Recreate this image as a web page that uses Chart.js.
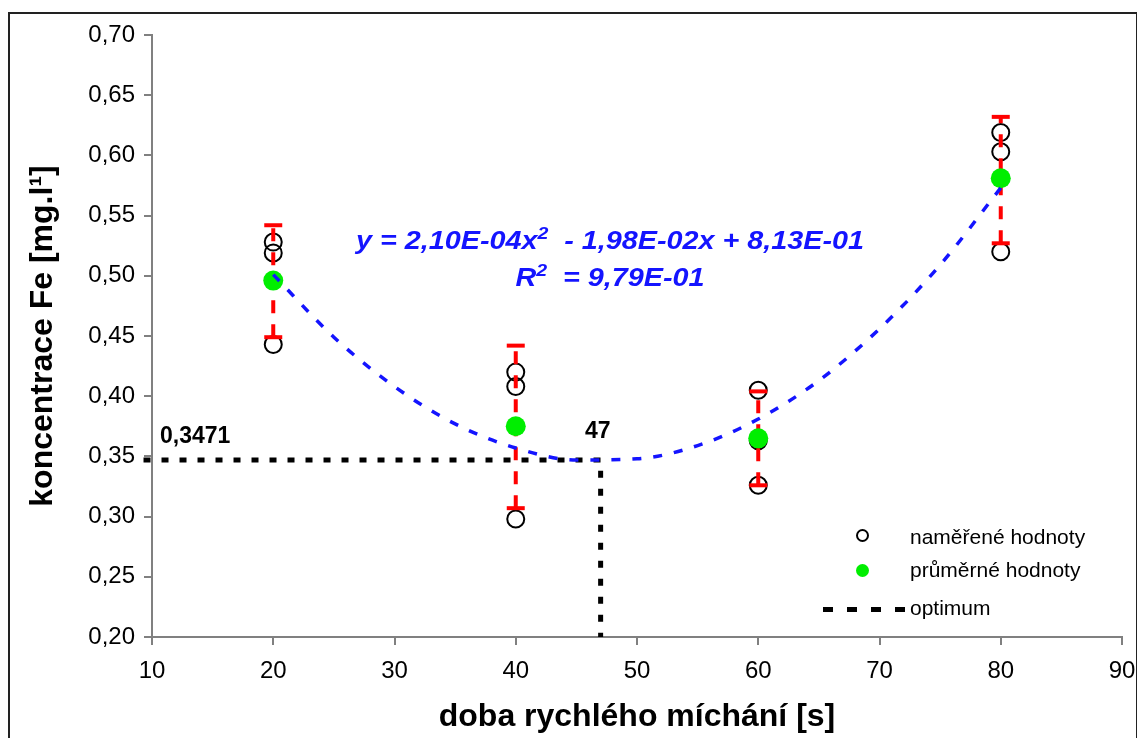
<!DOCTYPE html>
<html lang="cs">
<head>
<meta charset="utf-8">
<title>koncentrace Fe</title>
<script src="https://cdn.jsdelivr.net/npm/chart.js@4/dist/chart.umd.min.js"></script>
<style>
  html, body { margin: 0; padding: 0; background: #fff; }
  body { width: 1137px; height: 738px; position: relative; overflow: hidden;
         font-family: 'Liberation Sans', Arial, sans-serif; color: #000; }
  #frame { position: absolute; left: 8px; top: 12px; width: 1130px; height: 760px;
           border: 2px solid #222; box-sizing: border-box; }
  #chart { position: absolute; left: 0; top: 0; }
  .eq { position: absolute; left: 610px; white-space: pre; color: #1414ff;
        font: italic bold 25px 'Liberation Sans', Arial, sans-serif; line-height: 25px;
        transform: translateX(-50%) scaleX(1.15); }
  .eq sup { font-size: 17px; vertical-align: 0; position: relative; top: -10px; }
  .note { position: absolute; font: bold 23px 'Liberation Sans', Arial, sans-serif; line-height: 23px; }
  .lg { position: absolute; font: 21px 'Liberation Sans', Arial, sans-serif; line-height: 21px; left: 910px; }
  .ic { position: absolute; box-sizing: border-box; }
</style>
</head>
<body>
<div id="frame"></div>
<canvas id="chart" width="1137" height="738"></canvas>

<div class="eq" style="top:228px">y = 2,10E-04x<sup>2</sup>  - 1,98E-02x + 8,13E-01</div>
<div class="eq" style="top:265px">R<sup>2</sup>  = 9,79E-01</div>

<div class="note" style="left:160px;top:424px">0,3471</div>
<div class="note" style="left:585px;top:419px">47</div>

<div class="ic" style="left:856px;top:529px;width:13px;height:13px;border:2px solid #000;border-radius:50%"></div>
<div class="lg" style="top:526px">naměřené hodnoty</div>
<div class="ic" style="left:856px;top:564px;width:13px;height:13px;background:#00ee00;border-radius:50%"></div>
<div class="lg" style="top:559px">průměrné hodnoty</div>
<div class="ic" style="left:823px;top:607px;width:84px;height:5px;
     background:repeating-linear-gradient(to right,#000 0,#000 10px,transparent 10px,transparent 24px)"></div>
<div class="lg" style="top:597px">optimum</div>

<script>
'use strict';

// ── Data ────────────────────────────────────────────────────────
const measX   = [20, 20, 20, 40, 40, 40, 60, 60, 60, 80, 80, 80];
const measY   = [0.528, 0.519, 0.443, 0.420, 0.408, 0.298, 0.405, 0.363, 0.326, 0.619, 0.603, 0.520];

const meanX   = [20, 40, 60, 80];
const meanY   = [0.496, 0.375, 0.365, 0.581];
const errLow  = [0.449, 0.307, 0.326, 0.527];
const errHigh = [0.542, 0.442, 0.404, 0.632];

const trendX  = [20, 25, 30, 35, 40, 45, 50, 55, 60, 65, 70, 75, 80];
const trendY  = [0.501, 0.449, 0.408, 0.377, 0.357, 0.347, 0.348, 0.359, 0.381, 0.413, 0.456, 0.509, 0.573];

const optX    = [9.3, 47, 47];
const optY    = [0.3471, 0.3471, 0.20];

const xTicks  = { min: 10, max: 90, step: 10 };
const yTicks  = { min: 0.20, max: 0.70, step: 0.05 };

// ── Helpers ─────────────────────────────────────────────────────
const pts = (xs, ys) => xs.map((x, i) => ({ x, y: ys[i] }));

// error bars as line pieces separated by gaps
const errPts = [];
meanX.forEach((x, i) => {
  errPts.push({ x, y: errLow[i] }, { x, y: errHigh[i] }, { x, y: null });
});

const AXIS = '#808080';
Chart.defaults.font.family = "'Liberation Sans', Arial, sans-serif";
Chart.defaults.color = '#000';

new Chart(document.getElementById('chart'), {
  type: 'scatter',
  data: {
    datasets: [
      {
        label: 'trend',
        data: pts(trendX, trendY),
        showLine: true,
        borderColor: '#1414ff',
        borderWidth: 3.5,
        borderDash: [9, 12],
        cubicInterpolationMode: 'monotone',
        pointRadius: 0,
        order: 0,
      },
      {
        label: 'průměrné hodnoty',
        data: pts(meanX, meanY),
        pointRadius: 10,
        pointBorderWidth: 0,
        backgroundColor: '#00ee00',
        borderColor: '#00ee00',
        order: 1,
      },
      {
        label: 'chyba',
        data: errPts,
        showLine: true,
        spanGaps: false,
        borderColor: '#ff0000',
        borderWidth: 4,
        borderDash: [13, 11],
        pointStyle: 'line',
        pointRadius: 9,
        pointBorderWidth: 4,
        pointBorderColor: '#ff0000',
        order: 2,
      },
      {
        label: 'naměřené hodnoty',
        data: pts(measX, measY),
        pointRadius: 8.5,
        pointBorderWidth: 2,
        borderColor: '#000',
        backgroundColor: 'rgba(0,0,0,0)',
        order: 3,
      },
      {
        label: 'optimum',
        data: pts(optX, optY),
        showLine: true,
        borderColor: '#000',
        borderWidth: 5,
        borderDash: [7, 11],
        pointRadius: 0,
        clip: false,
        order: 4,
      },
    ],
  },
  options: {
    responsive: false,
    animation: false,
    layout: { padding: { top: 35, right: 15, left: 0, bottom: 0 } },
    plugins: { legend: { display: false }, tooltip: { enabled: false } },
    scales: {
      x: {
        type: 'linear',
        min: xTicks.min, max: xTicks.max,
        afterFit: s => { s.height = 101; s.paddingLeft = 0; s.paddingRight = 0; },
        ticks: { stepSize: xTicks.step, padding: 12, font: { size: 24 }, color: '#000' },
        grid: { drawOnChartArea: false, drawTicks: true, tickLength: 8, color: AXIS, lineWidth: 2 },
        border: { display: true, color: AXIS, width: 2 },
        title: {
          display: true, text: 'doba rychlého míchání [s]',
          font: { size: 32, weight: 'bold' }, color: '#000', padding: { top: 0, bottom: 2 },
        },
      },
      y: {
        type: 'linear',
        min: yTicks.min, max: yTicks.max,
        afterFit: s => { s.width = 152; },
        ticks: {
          stepSize: yTicks.step, padding: 9, font: { size: 24 }, color: '#000',
          callback: v => v.toFixed(2).replace('.', ','),
        },
        grid: { drawOnChartArea: false, drawTicks: true, tickLength: 8, color: AXIS, lineWidth: 2 },
        border: { display: true, color: AXIS, width: 2 },
        title: {
          display: true, text: 'koncentrace Fe [mg.l¹]',
          font: { size: 32, weight: 'bold' }, color: '#000', padding: { top: 24, bottom: 0 },
        },
      },
    },
  },
});
</script>
</body>
</html>
